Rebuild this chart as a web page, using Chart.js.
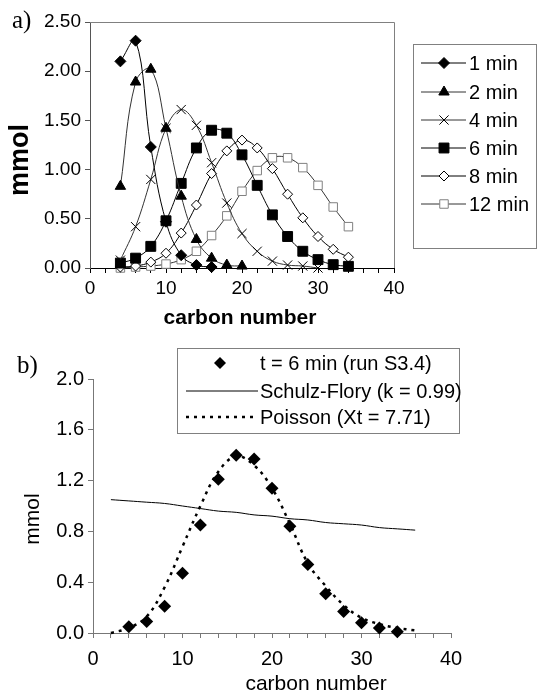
<!DOCTYPE html>
<html>
<head>
<meta charset="utf-8">
<script src="https://cdn.jsdelivr.net/npm/chart.js@4.4.1/dist/chart.umd.min.js"></script>
<style>
  html, body { margin: 0; padding: 0; background: #fff; }
  #wrap { position: relative; width: 539px; height: 694px; }
  canvas { position: absolute; left: 0; }
  #chartA { top: 0; }
  #chartB { top: 330px; }
</style>
</head>
<body>
<div id="wrap">
  <canvas id="chartA" width="539" height="330"></canvas>
  <canvas id="chartB" width="539" height="364"></canvas>
</div>
<script>
// ---- data: panel a) ----
const carbon = [4, 6, 8, 10, 12, 14, 16, 18, 20, 22, 24, 26, 28, 30, 32, 34];

const min1  = [2.10, 2.31, 1.23, 0.47, 0.13, 0.03, 0.01];
const min2  = [0.83, 1.89, 2.02, 1.42, 0.73, 0.29, 0.10, 0.03, 0.02];
const min4  = [0.08, 0.42, 0.90, 1.42, 1.61, 1.45, 1.07, 0.66, 0.35, 0.17, 0.07, 0.03, 0.02, 0.00];
const min6  = [0.05, 0.10, 0.22, 0.48, 0.86, 1.22, 1.40, 1.37, 1.15, 0.84, 0.54, 0.32, 0.17, 0.085, 0.034, 0.017];
const min8  = [0.01, 0.02, 0.06, 0.15, 0.355, 0.64, 0.96, 1.19, 1.30, 1.22, 1.01, 0.75, 0.51, 0.32, 0.19, 0.11];
const min12 = [0.00, 0.01, 0.02, 0.04, 0.085, 0.17, 0.33, 0.53, 0.78, 0.99, 1.12, 1.12, 1.02, 0.84, 0.62, 0.42];

const seriesLabelsA = ['1 min', '2 min', '4 min', '6 min', '8 min', '12 min'];

// ---- data: panel b) ----
const runCarbon = carbon;
const run6 = [0.05, 0.09, 0.21, 0.47, 0.85, 1.21, 1.40, 1.37, 1.14, 0.84, 0.54, 0.31, 0.17, 0.08, 0.04, 0.01];

const modelCarbon = [2, 4, 6, 8, 10, 12, 14, 16, 18, 20, 22, 24, 26, 28, 30, 32, 34, 36];
const schulzFlory = [1.05, 1.04, 1.03, 1.02, 1.00, 0.98, 0.96, 0.95, 0.93, 0.92, 0.90, 0.89, 0.87, 0.86, 0.85, 0.83, 0.82, 0.81];
const poisson     = [0.00, 0.04, 0.13, 0.36, 0.68, 1.00, 1.27, 1.39, 1.32, 1.14, 0.86, 0.55, 0.37, 0.22, 0.12, 0.07, 0.04, 0.02];

const seriesLabelsB = ['t = 6 min (run S3.4)', 'Schulz-Flory (k = 0.99)', 'Poisson (Xt = 7.71)'];

// ticks
const xTicks = [0, 2, 4, 6, 8, 10, 12, 14, 16, 18, 20, 22, 24, 26, 28, 30, 32, 34, 36, 38, 40];

const FONT = "'Liberation Sans', Arial, sans-serif";
Chart.defaults.font.family = FONT;
Chart.defaults.color = '#000';
Chart.defaults.animation = false;

const pts = (xs, ys) => ys.map((v, i) => ({ x: xs[i], y: v }));

/**
 * Boxed legend drawn like the Excel one: short line with marker, then text
 */
const makeLegend = (cfg) => ({
    id: 'boxLegend',
    afterDraw(chart) {
        const ctx = chart.ctx;
        ctx.save();
        ctx.strokeStyle = '#808080';
        ctx.lineWidth = 1;
        ctx.strokeRect(cfg.left + 0.5, cfg.top + 0.5, cfg.width, cfg.height);
        chart.data.datasets.forEach((ds, i) => {
            const y = cfg.rows[i];
            if (ds.showLine !== false) {
                ctx.beginPath();
                ctx.strokeStyle = ds.borderColor;
                ctx.lineWidth = ds.borderWidth;
                ctx.setLineDash(ds.borderDash || []);
                ctx.moveTo(cfg.lineX0, y);
                ctx.lineTo(cfg.lineX1, y);
                ctx.stroke();
                ctx.setLineDash([]);
            }
            if (ds.pointRadius > 0) {
                ctx.fillStyle = ds.pointBackgroundColor;
                ctx.strokeStyle = ds.pointBorderColor;
                ctx.lineWidth = ds.pointBorderWidth;
                Chart.helpers.drawPoint(ctx, {
                    pointStyle: ds.pointStyle,
                    radius: ds.legendRadius || ds.pointRadius,
                    rotation: 0,
                    borderWidth: ds.pointBorderWidth
                }, cfg.markerX, y);
            }
            ctx.fillStyle = '#000';
            ctx.font = cfg.font;
            ctx.textAlign = 'left';
            ctx.textBaseline = 'middle';
            ctx.fillText(ds.label, cfg.textX, y + 1);
        });
        ctx.restore();
    }
});

/**
 * Free texts: panel letters and axis titles
 */
const makeTexts = (list) => ({
    id: 'texts',
    afterDraw(chart) {
        const ctx = chart.ctx;
        list.forEach(t => {
            ctx.save();
            ctx.translate(t.x, t.y);
            if (t.rot) ctx.rotate(t.rot);
            ctx.font = t.font;
            ctx.fillStyle = '#000';
            ctx.textAlign = t.align || 'center';
            ctx.textBaseline = 'middle';
            ctx.fillText(t.text, 0, 0);
            ctx.restore();
        });
    }
});

// top and right frame of plot a)
const frameA = {
    id: 'frameA',
    beforeDatasetsDraw(chart) {
        const { ctx, chartArea: a } = chart;
        ctx.save();
        ctx.strokeStyle = '#808080';
        ctx.lineWidth = 1;
        ctx.beginPath();
        ctx.moveTo(a.left, Math.round(a.top) + 0.5);
        ctx.lineTo(Math.round(a.right) + 0.5, Math.round(a.top) + 0.5);
        ctx.lineTo(Math.round(a.right) + 0.5, a.bottom);
        ctx.stroke();
        ctx.restore();
    }
};

const lineSet = (label, data, style, radius, fill, stroke, lineColor) => ({
    label,
    data: pts(carbon, data),
    showLine: true,
    tension: 0.4,
    borderColor: lineColor,
    borderWidth: 1,
    pointStyle: style,
    pointRadius: radius,
    pointHoverRadius: radius,
    pointBackgroundColor: fill,
    pointBorderColor: stroke,
    pointBorderWidth: 1,
    clip: false
});

// ---- chart a) ----
new Chart(document.getElementById('chartA'), {
    type: 'scatter',
    data: {
        datasets: [
            lineSet(seriesLabelsA[0], min1, 'rectRot', 5.5, '#000', '#000', '#000'),
            lineSet(seriesLabelsA[1], min2, 'triangle', 6, '#000', '#000', '#333'),
            lineSet(seriesLabelsA[2], min4, 'crossRot', 6.5, '#000', '#000', '#333'),
            lineSet(seriesLabelsA[3], min6, 'rect', 7, '#000', '#000', '#000'),
            lineSet(seriesLabelsA[4], min8, 'rectRot', 5, '#fff', '#000', '#000'),
            lineSet(seriesLabelsA[5], min12, 'rect', 6, '#fff', '#808080', '#333')
        ]
    },
    options: {
        responsive: false,
        layout: { padding: { left: 0, right: 145, top: 22, bottom: 0 } },
        plugins: { legend: { display: false }, tooltip: { enabled: false } },
        scales: {
            x: {
                type: 'linear', min: 0, max: 40,
                afterFit: s => { s.height = 62; },
                afterBuildTicks: s => { s.ticks = xTicks.map(v => ({ value: v })); },
                ticks: {
                    autoSkip: false, maxRotation: 0, padding: 4,
                    font: { size: 19 },
                    callback: v => (v % 10 === 0 ? String(v) : '')
                },
                grid: { drawOnChartArea: false, tickLength: 5, color: '#000' },
                border: { color: '#000' }
            },
            y: {
                min: 0, max: 2.5,
                afterFit: s => { s.width = 90; },
                ticks: { stepSize: 0.5, padding: 4, font: { size: 19 }, callback: v => v.toFixed(2) },
                grid: { drawOnChartArea: false, tickLength: 5, color: '#555' },
                border: { color: '#555' }
            }
        }
    },
    plugins: [
        frameA,
        makeLegend({
            left: 413, top: 44, width: 123, height: 204,
            rows: [63, 92, 120, 148, 176, 204],
            lineX0: 421, lineX1: 466, markerX: 444, textX: 469,
            font: '20px ' + FONT
        }),
        makeTexts([
            { text: 'a)', x: 12, y: 21, align: 'left', font: '25px "Liberation Serif", "Times New Roman", serif' },
            { text: 'mmol', x: 21, y: 160, rot: -Math.PI / 2, font: 'bold 27px ' + FONT },
            { text: 'carbon number', x: 240, y: 318, font: 'bold 21px ' + FONT }
        ])
    ]
});

// ---- chart b) ----
new Chart(document.getElementById('chartB'), {
    type: 'scatter',
    data: {
        datasets: [
            {
                label: seriesLabelsB[0],
                data: pts(runCarbon, run6),
                showLine: false,
                pointStyle: 'rectRot',
                pointRadius: 6.5,
                legendRadius: 6,
                pointBackgroundColor: '#000',
                pointBorderColor: '#000',
                pointBorderWidth: 0,
                clip: false
            },
            {
                label: seriesLabelsB[1],
                data: pts(modelCarbon, schulzFlory),
                showLine: true,
                tension: 0.4,
                borderColor: '#000',
                borderWidth: 1,
                pointRadius: 0,
                clip: false
            },
            {
                label: seriesLabelsB[2],
                data: pts(modelCarbon, poisson),
                showLine: true,
                tension: 0.4,
                borderColor: '#000',
                borderWidth: 2.5,
                borderDash: [3, 5],
                pointRadius: 0,
                clip: false
            }
        ]
    },
    options: {
        responsive: false,
        layout: { padding: { left: 0, right: 88, top: 49, bottom: 0 } },
        plugins: { legend: { display: false }, tooltip: { enabled: false } },
        scales: {
            x: {
                type: 'linear', min: 0, max: 40,
                afterFit: s => { s.height = 61; },
                afterBuildTicks: s => { s.ticks = xTicks.map(v => ({ value: v })); },
                ticks: {
                    autoSkip: false, maxRotation: 0, padding: 9,
                    font: { size: 20 },
                    callback: v => (v % 10 === 0 ? String(v) : '')
                },
                grid: { drawOnChartArea: false, tickLength: 5, color: '#777' },
                border: { color: '#777' }
            },
            y: {
                min: 0, max: 2,
                afterFit: s => { s.width = 93; },
                ticks: {
                    stepSize: 0.2, padding: 4, font: { size: 20 },
                    callback: v => (Math.abs(v / 0.4 - Math.round(v / 0.4)) < 1e-6 ? v.toFixed(1) : '')
                },
                grid: { drawOnChartArea: false, tickLength: 5, color: '#777' },
                border: { color: '#777' }
            }
        }
    },
    plugins: [
        makeLegend({
            left: 177, top: 18, width: 282, height: 85,
            rows: [33, 61, 87],
            lineX0: 186, lineX1: 258, markerX: 220, textX: 260,
            font: '20px ' + FONT
        }),
        makeTexts([
            { text: 'b)', x: 17, y: 36, align: 'left', font: '25px "Liberation Serif", "Times New Roman", serif' },
            { text: 'mmol', x: 33, y: 189, rot: -Math.PI / 2, font: '21px ' + FONT },
            { text: 'carbon number', x: 316, y: 354, font: '21px ' + FONT }
        ])
    ]
});
</script>
</body>
</html>
